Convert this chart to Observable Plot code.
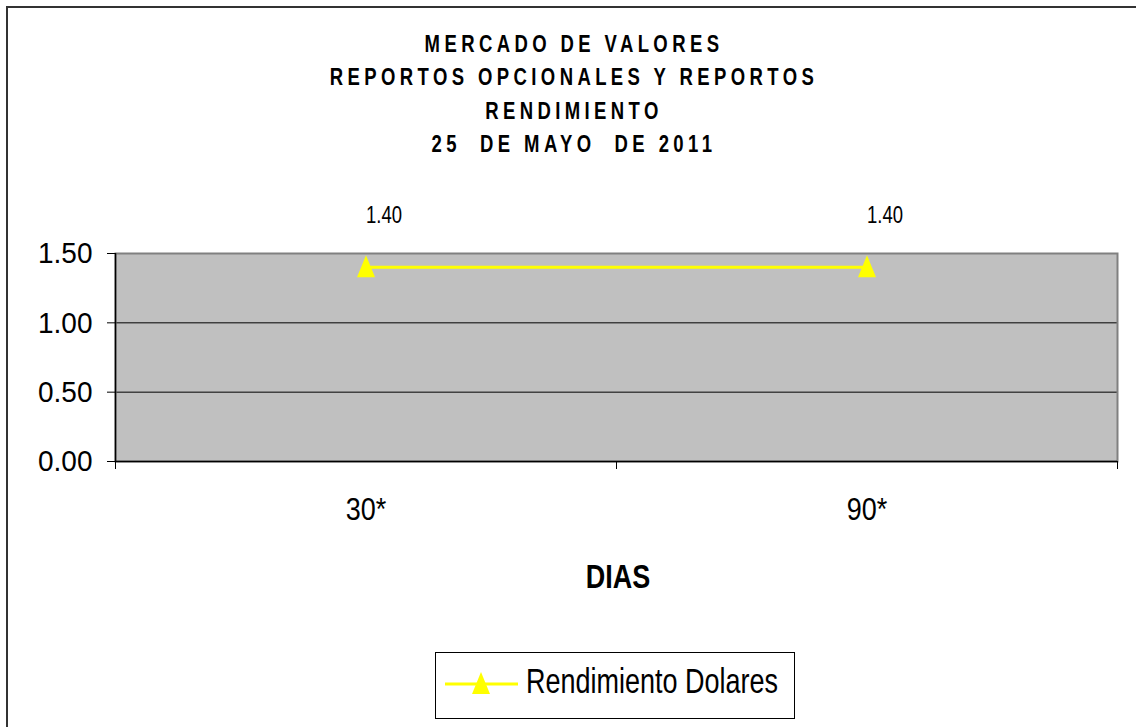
<!DOCTYPE html>
<html>
<head>
<meta charset="utf-8">
<script src="https://cdn.jsdelivr.net/npm/d3@7"></script>
<script src="https://cdn.jsdelivr.net/npm/@observablehq/plot@0.6"></script>
<style>
  html, body { margin: 0; padding: 0; background: #fff; overflow: hidden; }
  #page { position: relative; width: 1136px; height: 727px; overflow: hidden;
          font-family: "Liberation Sans", Arial, sans-serif; color: #000; }
  #border { position: absolute; left: 6px; top: 6px; width: 1200px; height: 800px; border: 2px solid #333; }
  #title { position: absolute; left: 0; top: 27px; width: 1148px; text-align: center;
           font-weight: bold; font-size: 18.5px; line-height: 33.3px; letter-spacing: 4.4px; white-space: pre; }
  #title div { transform: scaleY(1.26); transform-origin: 50% 50%; }
  #chart { position: absolute; left: 0; top: 190px; }
  #xlabel { position: absolute; left: 518px; width: 200px; text-align: center; top: 557px;
            font-weight: bold; font-size: 27px; line-height: 40px; transform: scaleY(1.2); }
  #legend { position: absolute; left: 435px; top: 652px; width: 358px; height: 65px; border: 1px solid #000;
            background: #fff; }
  #legend svg { position: absolute; left: 0; top: 0; }
  #legend span { position: absolute; left: 90px; top: 8px; font-size: 27px; line-height: 40px; white-space: nowrap;
                 transform: scaleY(1.28); transform-origin: 50% 50%; }
</style>
</head>
<body>
<div id="page">
  <div id="border"></div>
  <div id="title"></div>
  <div id="chart"></div>
  <div id="xlabel"></div>
  <div id="legend"></div>
</div>
<script>
// ---- data ----
const titleLines = ["MERCADO DE VALORES", "REPORTOS OPCIONALES Y REPORTOS", "RENDIMIENTO", "25  DE MAYO  DE 2011"];
const dias = ["30*", "90*"];
const rendimiento = [1.40, 1.40];
const yTicks = [0, 0.5, 1.0, 1.5];
const serieNombre = "Rendimiento Dolares";
const xTitle = "DIAS";

const FONT = '"Liberation Sans", Arial, sans-serif';
const YELLOW = "#ffff00";

// custom stretched triangle symbol
const tri = {
  draw(ctx, size) {
    const r = Math.sqrt(size / Math.PI);
    const w = r * 2.25, h = r * 2.75;
    ctx.moveTo(0, -h * 0.55);
    ctx.lineTo(w / 2, h * 0.45);
    ctx.lineTo(-w / 2, h * 0.45);
    ctx.closePath();
  }
};

const titleEl = document.getElementById("title");
titleLines.forEach(l => { const d = document.createElement("div"); d.textContent = l; titleEl.appendChild(d); });
document.getElementById("xlabel").textContent = xTitle;

const rows = dias.map((d, i) => ({i, dia: d, pos: i + 0.5, value: rendimiento[i]}));
const bounds = d3.range(dias.length + 1);

const chart = Plot.plot({
  width: 1136,
  height: 350,
  marginLeft: 115,
  marginRight: 19,
  marginTop: 63,
  marginBottom: 79,
  style: {fontFamily: FONT, background: "transparent", color: "#000", overflow: "visible"},
  x: {domain: [0, dias.length], axis: null},
  y: {domain: [0, 1.5], axis: null},
  marks: [
    Plot.frame({fill: "#c0c0c0", stroke: null}),
    Plot.ruleY(yTicks.filter(t => t > 0 && t < 1.5), {stroke: "#000", strokeWidth: 1}),
    Plot.frame({stroke: "#808080", strokeWidth: 2}),
    Plot.ruleX([0], {stroke: "#000", strokeWidth: 1.5}),
    Plot.ruleY([0], {stroke: "#000", strokeWidth: 1.5}),
    Plot.axisY({ticks: yTicks, tickFormat: d3.format(".2f"), tickSize: 8, tickPadding: 15,
                fontSize: 28, label: null, stroke: "#000", className: "yax"}),
    Plot.axisX({ticks: bounds, tickFormat: () => "", tickSize: 8, label: null, stroke: "#000"}),
    Plot.axisX({ticks: rows.map(r => r.pos), tickFormat: p => dias[Math.floor(p)], tickSize: 0,
                tickPadding: 36, fontSize: 27, label: null, className: "xax"}),
    Plot.lineY(rows, {x: "pos", y: "value", stroke: YELLOW, strokeWidth: 3}),
    Plot.dot(rows, {x: "pos", y: "value", symbol: tri, r: 8, fill: YELLOW, stroke: null}),
    Plot.text(rows, {x: "pos", y: "value", text: d => d3.format(".2f")(d.value), dx: 18, dy: -52,
                     fontSize: 18.5, fill: "#000", className: "vlab"})
  ]
});
// stretch glyphs vertically like the original rendering
function stretch(sel, k) {
  chart.querySelectorAll(sel + " text").forEach(t => {
    const tr = t.getAttribute("transform");
    if (tr && tr.includes("translate")) t.setAttribute("transform", tr + ` scale(1,${k})`);
  });
}
stretch(".yax", 1.08);
stretch(".xax", 1.19);
stretch(".vlab", 1.28);
document.getElementById("chart").appendChild(chart);

// legend
const leg = document.getElementById("legend");
const sw = d3.create("svg").attr("width", 90).attr("height", 65);
sw.append("line").attr("x1", 9).attr("x2", 82).attr("y1", 31).attr("y2", 31)
  .attr("stroke", YELLOW).attr("stroke-width", 3);
sw.append("path").attr("transform", "translate(45,31)")
  .attr("d", d3.symbol(tri, Math.PI * 64)()).attr("fill", YELLOW);
leg.appendChild(sw.node());
const sp = document.createElement("span");
sp.textContent = serieNombre;
leg.appendChild(sp);
</script>
</body>
</html>
